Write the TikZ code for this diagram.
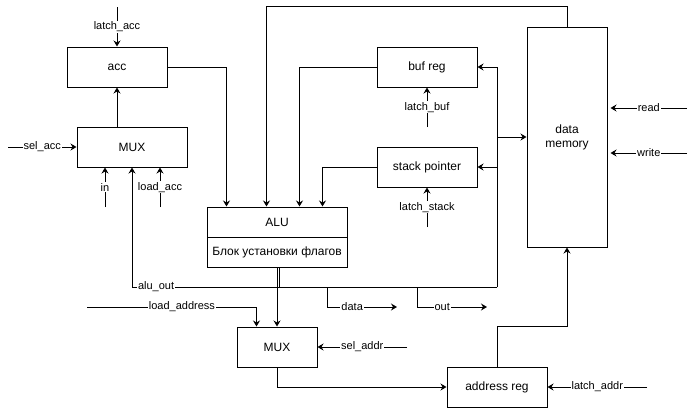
\documentclass[tikz,border=0pt]{standalone}
\usepackage{fontspec}
\setmainfont{Liberation Sans}
\usetikzlibrary{arrows.meta,calc}
\begin{document}
\begin{tikzpicture}[x=1pt,y=-1pt,
  box/.style={draw, line width=1pt, inner sep=0pt, align=center,
    font=\fontsize{12}{14}\selectfont},
  wire/.style={line width=1pt},
  arr/.style={wire, -{Stealth[length=6pt,width=7pt,inset=2pt]}},
  lbl/.style={fill=white, inner sep=1pt, font=\fontsize{11}{13}\selectfont}]
\useasboundingbox (0,0) rectangle (696,408);

% blocks
\node[box, minimum width=100pt, minimum height=40pt] (acc) at (117,67) {acc};
\node[box, minimum width=110pt, minimum height=40pt] (mux1) at (132,147) {MUX};
\node[box, minimum width=140pt, minimum height=30pt] (alu) at (277,222) {ALU};
\node[box, minimum width=140pt, minimum height=30pt] (flags) at (277,252) {Блок установки флагов};
\node[box, minimum width=100pt, minimum height=40pt] (buf) at (427,67) {buf reg};
\node[box, minimum width=100pt, minimum height=40pt] (sp) at (427,167) {stack pointer};
\node[box, minimum width=80pt, minimum height=220pt] (mem) at (567,137) {data\\memory};
\node[box, minimum width=80pt, minimum height=40pt] (mux2) at (277,347) {MUX};
\node[box, minimum width=100pt, minimum height=40pt] (addr) at (497,387) {address reg};

% free ends of the control inputs
\coordinate (la) at (117,7);
\coordinate (sa) at (8,147);
\coordinate (inp) at (105,207);
\coordinate (lacc) at (160,207);
\coordinate (lb) at (427,127);
\coordinate (ls) at (427,227);
\coordinate (ld) at (87,307);
\coordinate (sd) at (407,347);
\coordinate (lad) at (647,387);
\coordinate (rd) at (687,108);
\coordinate (wr) at (687,153);
% bus junctions
\coordinate (bj) at (497,287);
\coordinate (ao) at (132,287);
\coordinate (dj) at (327,287);
\coordinate (dout) at (397,307);
\coordinate (oj) at (417,287);
\coordinate (oout) at (487,307);

% accumulator path
\draw[arr] (la) -- node[lbl]{latch\_acc} (acc.north);
\draw[arr] (mux1.north -| acc.south) -- (acc.south);
\draw[arr] (sa) -- node[lbl]{sel\_acc} (mux1.west);
\draw[arr] (inp) -- node[lbl]{in} (inp |- mux1.south);
\draw[arr] (lacc) -- node[lbl]{load\_acc} (lacc |- mux1.south);

% ALU operands
\draw[arr] (acc.east) -| ($(alu.north west)+(20,0)$);
\draw[arr] (mem.north) -- ++(0,-20) -| ($(alu.north west)+(60,0)$);
\draw[arr] (buf.west) -| ($(alu.north west)+(93,0)$);
\draw[arr] (sp.west) -| ($(alu.north west)+(116,0)$);

% register control
\draw[arr] (lb) -- node[lbl]{latch\_buf} (buf.south);
\draw[arr] (ls) -- node[lbl]{latch\_stack} (sp.south);

% ALU result bus
\draw[wire] ([xshift=2pt]flags.south) -- ++(0,20);
\draw[arr] (flags.south) -- (mux2.north);
\draw[arr] (bj) -- node[lbl, pos=0.934]{alu\_out} (ao) -- (mux1.south);
\draw[arr] (bj) |- (buf.east);
\draw[arr] (bj) |- (sp.east);
\draw[arr] (bj) |- (mem.west);
\draw[arr] (dj) |- node[lbl, pos=0.68]{data} (dout);
\draw[arr] (oj) |- node[lbl, pos=0.68]{out} (oout);

% address path
\draw[arr] (ld) -| node[lbl, pos=0.28]{load\_address} ($(mux2.north west)+(20,0)$);
\draw[arr] (sd) -- node[lbl]{sel\_addr} (mux2.east);
\draw[arr] (mux2.south) |- (addr.west);
\draw[arr] (lad) -- node[lbl]{latch\_addr} (addr.east);
\draw[arr] (addr.north) -- ++(0,-40) -| (mem.south);

% memory control
\draw[arr] (rd) -- node[lbl]{read} ([xshift=3pt]rd -| mem.east);
\draw[arr] (wr) -- node[lbl]{write} ([xshift=3pt]wr -| mem.east);
\end{tikzpicture}
\end{document}
